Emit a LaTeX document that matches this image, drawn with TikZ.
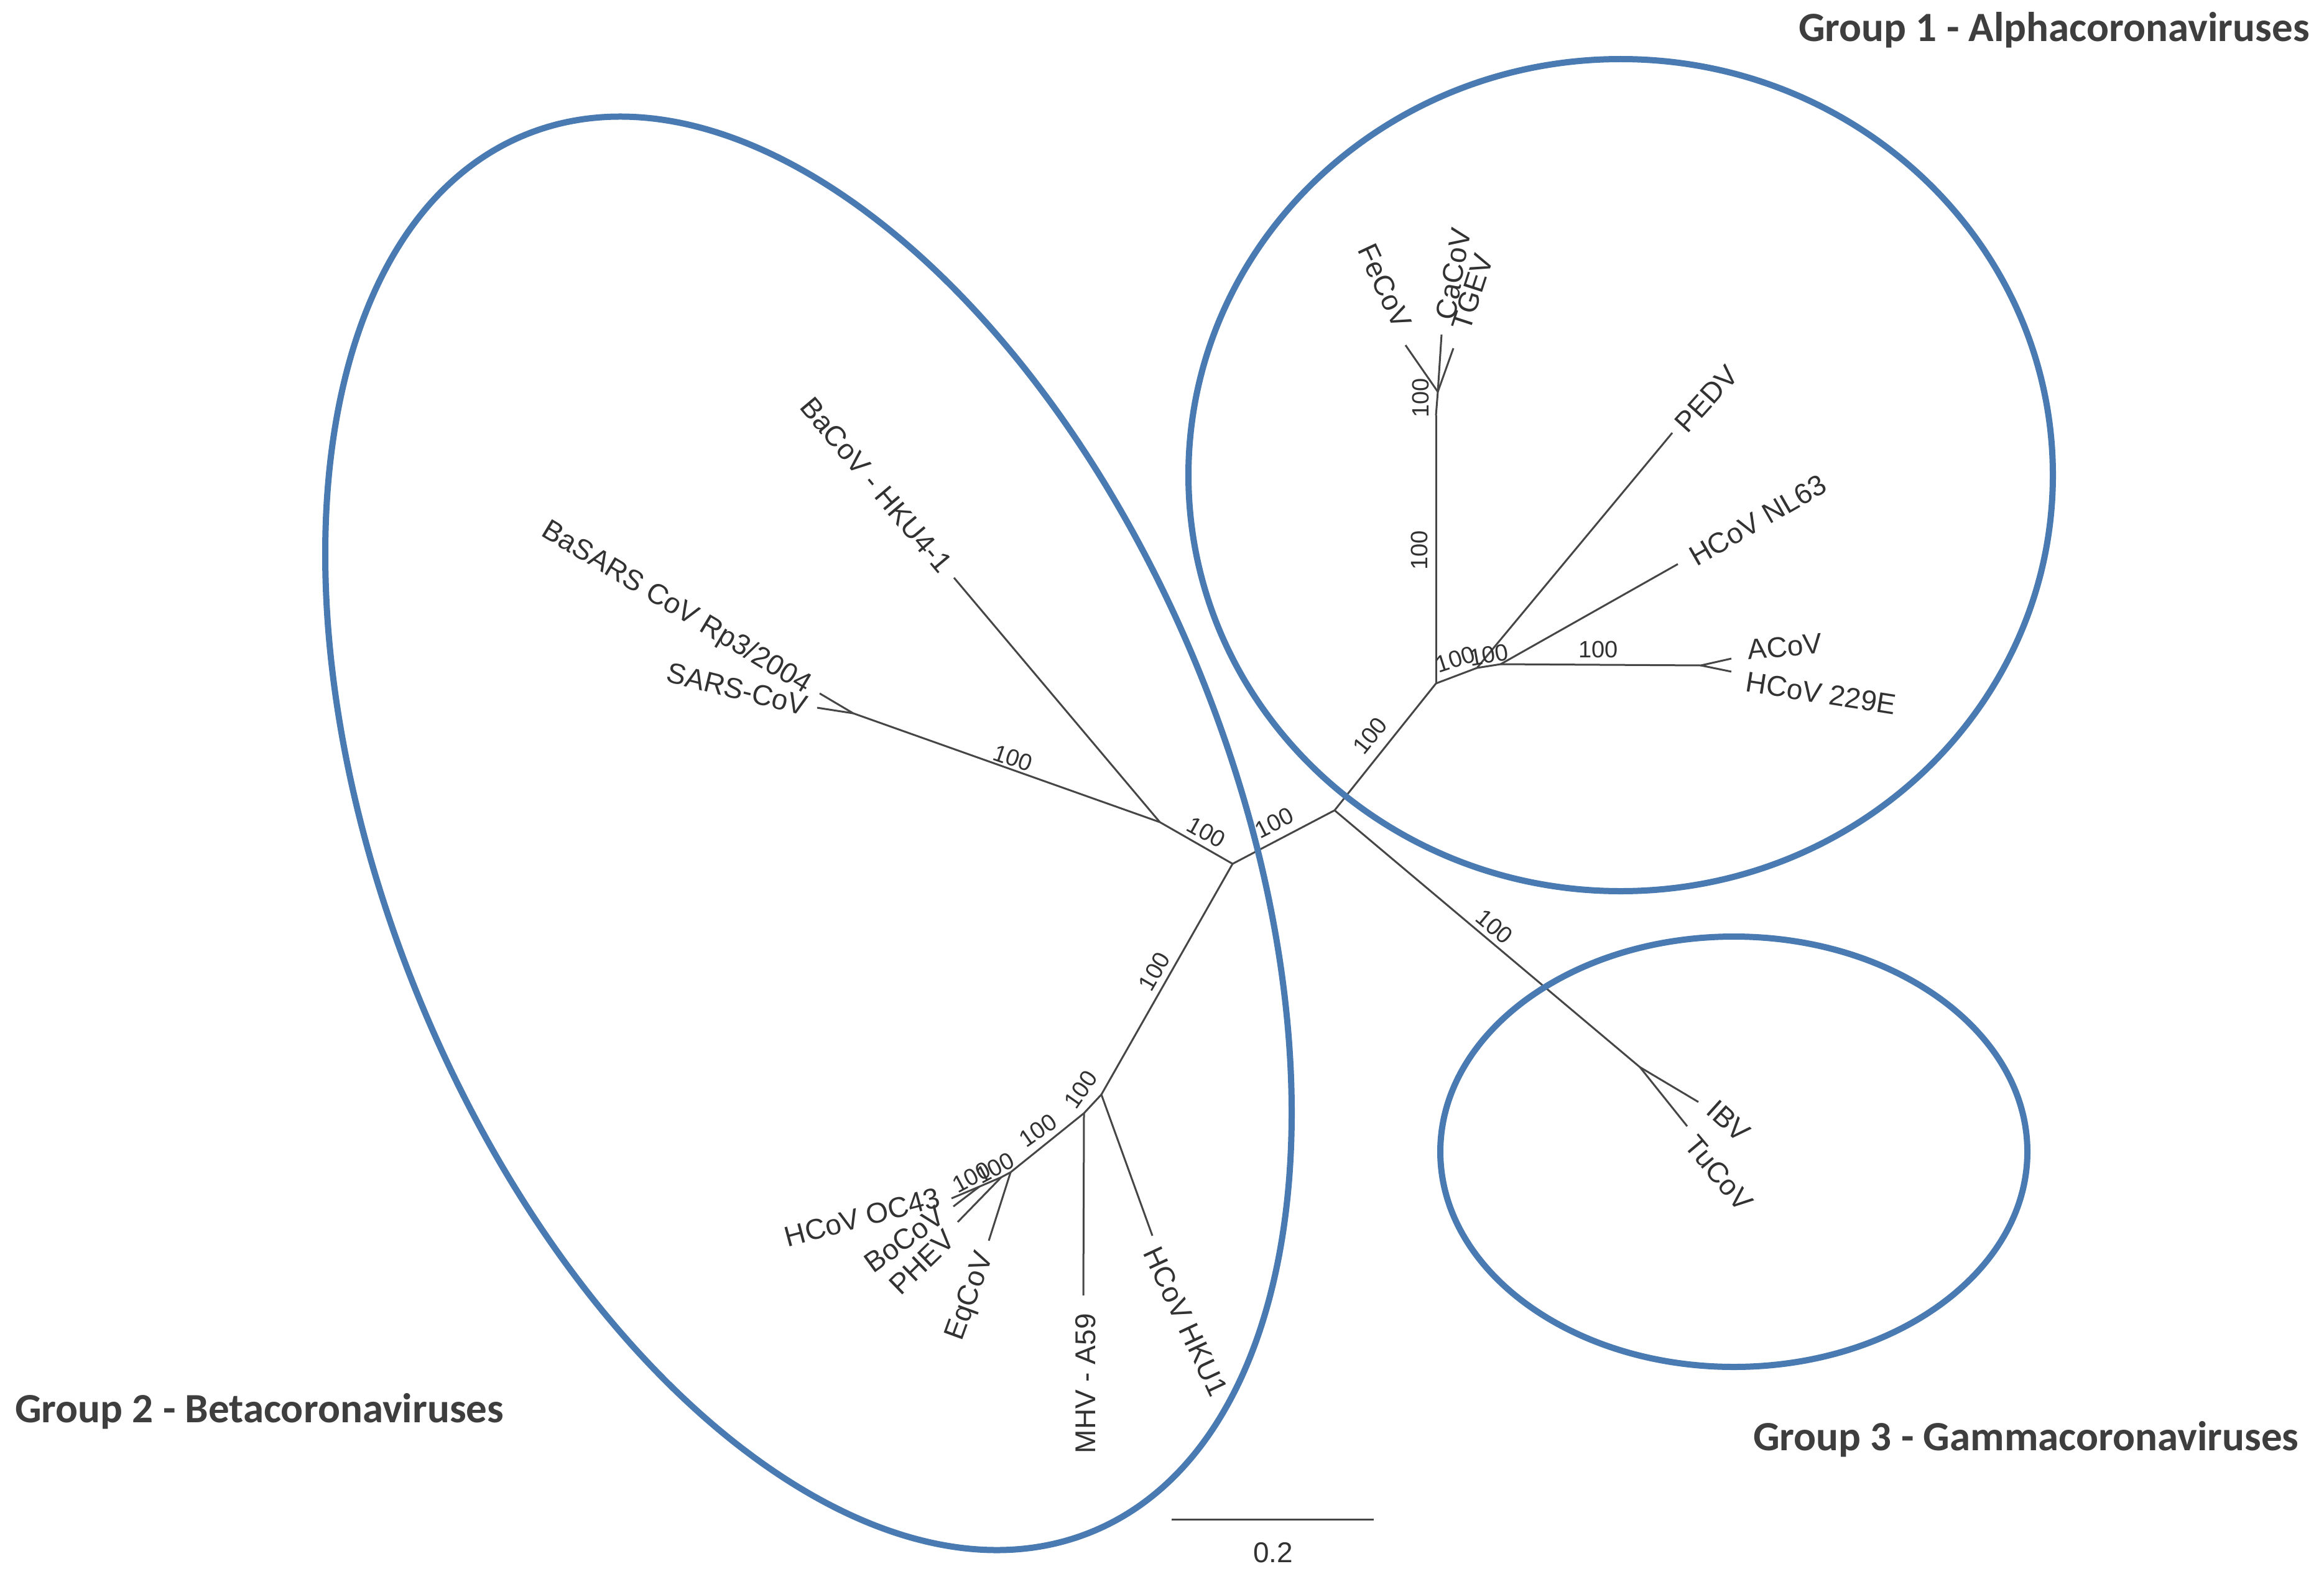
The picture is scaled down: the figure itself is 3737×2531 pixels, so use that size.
\documentclass[tikz,border=0pt]{standalone}
\usepackage{fontspec}
\setmainfont{Liberation Sans}
\newfontfamily\groupfont{Carlito}
\usepackage{tikz}

\definecolor{ringblue}{RGB}{74,122,178}
\definecolor{treegray}{RGB}{70,70,70}
\definecolor{labelgray}{RGB}{50,50,50}
\definecolor{groupgray}{RGB}{62,62,62}

\begin{document}
\begin{tikzpicture}[x=1pt,y=-1pt,
    branch/.style={draw=treegray, line width=3pt},
    taxon/.style={font=\fontsize{46}{50}\selectfont, text=labelgray, inner sep=0pt},
    boot/.style={font=\fontsize{38}{40}\selectfont, text=labelgray, inner sep=0pt},
    group/.style={font=\groupfont\bfseries\fontsize{67}{70}\selectfont, text=groupgray, inner sep=0pt, anchor=base west},
    ring/.style={draw=ringblue, line width=10pt}]
    \fill[white] (0,0) rectangle (3737,2531);
    \useasboundingbox (0,0) rectangle (3737,2531);

    % inner nodes of the tree
    \coordinate (R) at (2146,1303);
    \coordinate (Aa) at (2309,1099);
    \coordinate (Ab) at (2309,668);
    \coordinate (Ab2) at (2312,630);
    \coordinate (Ac) at (2375,1074);
    \coordinate (Ad) at (2413,1068);
    \coordinate (Ae) at (2735,1070);
    \coordinate (Bn) at (1982,1389);
    \coordinate (Bs) at (1865,1322);
    \coordinate (Sc) at (1372,1147);
    \coordinate (Bl) at (1771,1760);
    \coordinate (Bm) at (1743,1790);
    \coordinate (Bo) at (1625,1885);
    \coordinate (Bp) at (1610,1893);
    \coordinate (Bq) at (1575,1908);
    \coordinate (Gn) at (2637,1716);

    % tips
    \coordinate (tFeCoV) at (2260,555);
    \coordinate (tCaCoV) at (2318,538);
    \coordinate (tTGEV) at (2337,560);
    \coordinate (tPEDV) at (2689,696);
    \coordinate (tNL63) at (2698,907);
    \coordinate (tACoV) at (2784,1059);
    \coordinate (t229E) at (2784,1080);
    \coordinate (tBaSARS) at (1318,1115);
    \coordinate (tSARS) at (1314,1138);
    \coordinate (tBaCoV) at (1534,929);
    \coordinate (tOC43) at (1530,1927);
    \coordinate (tBoCoV) at (1533,1940);
    \coordinate (tPHEV) at (1540,1965);
    \coordinate (tEqCoV) at (1590,1995);
    \coordinate (tMHV) at (1742,2083);
    \coordinate (tHKU1) at (1853,1987);
    \coordinate (tIBV) at (2731,1772);
    \coordinate (tTuCoV) at (2713,1811);

    % alpha
    \path[branch] (R) edge (Aa);
    \path[branch] (Aa) edge (Ab);
    \path[branch] (Ab) edge (Ab2);
    \path[branch] (Ab2) edge (tFeCoV);
    \path[branch] (Ab2) edge (tCaCoV);
    \path[branch] (Ab2) edge (tTGEV);
    \path[branch] (Aa) edge (Ac);
    \path[branch] (Ac) edge (tPEDV);
    \path[branch] (Ac) edge (Ad);
    \path[branch] (Ad) edge (tNL63);
    \path[branch] (Ad) edge (Ae);
    \path[branch] (Ae) edge (tACoV);
    \path[branch] (Ae) edge (t229E);
    % beta
    \path[branch] (R) edge (Bn);
    \path[branch] (Bn) edge (Bs);
    \path[branch] (Bs) edge (tBaCoV);
    \path[branch] (Bs) edge (Sc);
    \path[branch] (Sc) edge (tBaSARS);
    \path[branch] (Sc) edge (tSARS);
    \path[branch] (Bn) edge (Bl);
    \path[branch] (Bl) edge (tHKU1);
    \path[branch] (Bl) edge (Bm);
    \path[branch] (Bm) edge (tMHV);
    \path[branch] (Bm) edge (Bo);
    \path[branch] (Bo) edge (tEqCoV);
    \path[branch] (Bo) edge (Bp);
    \path[branch] (Bp) edge (tPHEV);
    \path[branch] (Bp) edge (Bq);
    \path[branch] (Bq) edge (tOC43);
    \path[branch] (Bq) edge (tBoCoV);
    % gamma
    \path[branch] (R) edge (Gn);
    \path[branch] (Gn) edge (tIBV);
    \path[branch] (Gn) edge (tTuCoV);

    % taxa
    \node[taxon, anchor=east, rotate=-65] (FeCoV) at (2257,525) {FeCoV};
    \node[taxon, anchor=west, rotate=80] (CaCoV) at (2324,514) {CaCoV};
    \node[taxon, anchor=west, rotate=72] (TGEV) at (2348,530) {TGEV};
    \node[taxon, anchor=west, rotate=48] (PEDV) at (2702,688) {PEDV};
    \node[taxon, anchor=west, rotate=30] (NL63) at (2720,898) {HCoV NL63};
    \node[taxon, anchor=west, rotate=5] (ACoV) at (2810,1045) {ACoV};
    \node[taxon, anchor=west, rotate=-9] (229E) at (2808,1096) {HCoV 229E};
    \node[taxon, anchor=east, rotate=-31] (BaSARS) at (1300,1106) {BaSARS CoV Rp3/2004};
    \node[taxon, anchor=east, rotate=-14] (SARS) at (1297,1136) {SARS-CoV};
    \node[taxon, anchor=east, rotate=-50] (BaCoV) at (1522,914) {BaCoV - HKU4-1};
    \node[taxon, anchor=east, rotate=15] (OC43) at (1510,1924) {HCoV OC43};
    \node[taxon, anchor=east, rotate=36] (BoCoV) at (1513,1950) {BoCoV};
    \node[taxon, anchor=east, rotate=44] (PHEV) at (1528,1986) {PHEV};
    \node[taxon, anchor=east, rotate=70] (EqCoV) at (1586,2016) {EqCoV};
    \node[taxon, anchor=east, rotate=90] (MHV) at (1746,2112) {MHV - A59};
    \node[taxon, anchor=west, rotate=-65] (HKU1) at (1852,2008) {HCoV HKU1};
    \node[taxon, anchor=west, rotate=-42] (IBV) at (2752,1778) {IBV};
    \node[taxon, anchor=west, rotate=-50] (TuCoV) at (2718,1832) {TuCoV};

    % bootstrap values
    \node[boot, rotate=51] (bAa) at (2203,1183) {100};
    \node[boot, rotate=18] (bAc) at (2340,1060) {100};
    \node[boot, rotate=10] (bAd) at (2394,1053) {100};
    \node[boot] (bAe) at (2570,1044) {100};
    \node[boot, rotate=90] (bAb) at (2282,885) {100};
    \node[boot, rotate=90] (bAb2) at (2284,640) {100};
    \node[boot, rotate=27] (bBn) at (2049,1323) {100};
    \node[boot, rotate=-29] (bBs) at (1940,1338) {100};
    \node[boot, rotate=-19] (bSc) at (1629,1219) {100};
    \node[boot, rotate=60] (bBl) at (1856,1562) {100};
    \node[boot, rotate=55] (bBm) at (1738,1752) {100};
    \node[boot, rotate=35] (bBo) at (1669,1818) {100};
    \node[boot, rotate=28] (bBp) at (1600,1878) {100};
    \node[boot, rotate=28] (bBq) at (1562,1893) {100};
    \node[boot, rotate=-40] (bGn) at (2403,1490) {100};

    % scale bar
    \coordinate (sbL) at (1884,2443);
    \coordinate (sbR) at (2209,2443);
    \path[branch] (sbL) edge (sbR);
    \node[taxon] (sbval) at (2047,2497) {0.2};

    % groups
    \coordinate (betaC) at (1300,1340);
    \coordinate (alphaC) at (2606,764);
    \coordinate (gammaC) at (2788,1852);
    \draw[ring, rotate around={-68:(betaC)}] (betaC) ellipse [x radius=1212, y radius=680];
    \draw[ring] (alphaC) ellipse [x radius=695, y radius=669];
    \draw[ring] (gammaC) ellipse [x radius=472, y radius=346];
    \node[group] (g1) at (2892,67) {Group 1 - Alphacoronaviruses};
    \node[group] (g2) at (24,2287) {Group 2 - Betacoronaviruses};
    \node[group] (g3) at (2819,2332) {Group 3 - Gammacoronaviruses};
\end{tikzpicture}
\end{document}
